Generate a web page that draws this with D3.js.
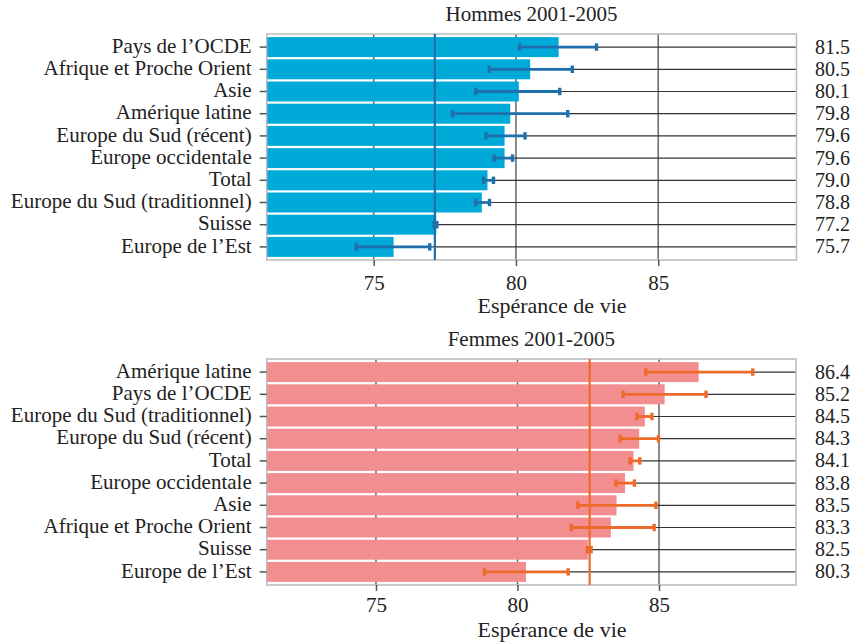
<!DOCTYPE html>
<html>
<head>
<meta charset="utf-8">
<script src="https://cdn.jsdelivr.net/npm/d3@7"></script>
<style>
  body { margin: 0; background: #fff; }
  svg { display: block; font-family: "Liberation Serif", "Times New Roman", serif; }
</style>
</head>
<body>
<svg id="chart" width="856" height="642"></svg>
<script>
// ---- Data ----
const menTitle = "Hommes 2001-2005";
const menCategories = ["Pays de l\u2019OCDE", "Afrique et Proche Orient", "Asie", "Am\u00e9rique latine",
  "Europe du Sud (r\u00e9cent)", "Europe occidentale", "Total", "Europe du Sud (traditionnel)", "Suisse", "Europe de l\u2019Est"];
const menValues = [81.5, 80.5, 80.1, 79.8, 79.6, 79.6, 79.0, 78.8, 77.2, 75.7];
const menLow  = [80.13, 79.06, 78.59, 77.77, 78.95, 79.23, 78.86, 78.58, 77.12, 74.39];
const menHigh = [82.83, 81.98, 81.54, 81.82, 80.32, 79.88, 79.21, 79.07, 77.22, 76.97];
const menRef = 77.15;

const womenTitle = "Femmes 2001-2005";
const womenCategories = ["Am\u00e9rique latine", "Pays de l\u2019OCDE", "Europe du Sud (traditionnel)",
  "Europe du Sud (r\u00e9cent)", "Total", "Europe occidentale", "Asie", "Afrique et Proche Orient", "Suisse", "Europe de l\u2019Est"];
const womenValues = [86.4, 85.2, 84.5, 84.3, 84.1, 83.8, 83.5, 83.3, 82.5, 80.3];
const womenLow  = [84.53, 83.73, 84.22, 83.63, 83.98, 83.48, 82.13, 81.90, 82.47, 78.83];
const womenHigh = [88.31, 86.66, 84.75, 84.98, 84.32, 84.13, 84.89, 84.83, 82.60, 81.79];
const womenRef = 82.55;

const xTicks = [75, 80, 85];
const xLabel = "Esp\u00e9rance de vie";

// ---- Drawing ----
const svg = d3.select("#chart");

function panel(cfg) {
  const g = svg.append("g");
  const x = d3.scaleLinear().domain(cfg.domain).range([cfg.left, cfg.right]);
  const y = d3.scaleBand().domain(cfg.cats).range([cfg.top + 2, cfg.bottom - 2])
    .paddingInner(0.1).paddingOuter(0.05);
  const data = cfg.cats.map((c, i) => ({c, v: cfg.values[i], lo: cfg.low[i], hi: cfg.high[i]}));
  const cy = d => y(d.c) + y.bandwidth() / 2;

  // vertical grid lines
  g.selectAll(".vg").data(xTicks).join("line")
    .attr("x1", d => x(d)).attr("x2", d => x(d))
    .attr("y1", cfg.top).attr("y2", cfg.bottom)
    .attr("stroke", "#666").attr("stroke-width", 1.5);
  // horizontal grid lines
  g.selectAll(".hg").data(data).join("line")
    .attr("x1", cfg.left).attr("x2", cfg.right)
    .attr("y1", cy).attr("y2", cy)
    .attr("stroke", "#333").attr("stroke-width", 1.2);
  // bars
  g.selectAll(".bar").data(data).join("rect")
    .attr("x", cfg.left).attr("y", d => y(d.c))
    .attr("width", d => x(d.v) - cfg.left).attr("height", y.bandwidth())
    .attr("fill", cfg.barColor);
  // border
  g.append("rect").attr("x", cfg.left).attr("y", cfg.top)
    .attr("width", cfg.right - cfg.left).attr("height", cfg.bottom - cfg.top)
    .attr("fill", "none").attr("stroke", "#bbb").attr("stroke-width", 1.5);
  // reference line
  g.append("line").attr("x1", x(cfg.ref)).attr("x2", x(cfg.ref))
    .attr("y1", cfg.top).attr("y2", cfg.bottom)
    .attr("stroke", cfg.errColor).attr("stroke-width", 2.2);
  // error bars
  const eb = g.selectAll(".eb").data(data).join("g");
  eb.append("line").attr("x1", d => x(d.lo)).attr("x2", d => x(d.hi))
    .attr("y1", cy).attr("y2", cy)
    .attr("stroke", cfg.errColor).attr("stroke-width", 2.8);
  eb.append("rect").attr("x", d => x(d.lo) - 1.7).attr("y", d => cy(d) - 3.7)
    .attr("width", 3.4).attr("height", 7.4).attr("fill", cfg.errColor);
  eb.append("rect").attr("x", d => x(d.hi) - 1.7).attr("y", d => cy(d) - 3.7)
    .attr("width", 3.4).attr("height", 7.4).attr("fill", cfg.errColor);

  // x axis
  const xAxis = d3.axisBottom(x).tickValues(xTicks).tickSize(6).tickPadding(cfg.tickPad)
    .tickFormat(d3.format("d"));
  const ax = g.append("g").attr("transform", `translate(0,${cfg.bottom})`).call(xAxis);
  ax.attr("font-family", null);
  ax.select(".domain").remove();
  ax.selectAll(".tick line").attr("stroke", "#555").attr("stroke-width", 1.5);
  ax.selectAll(".tick text").attr("font-size", 21).attr("fill", "#222")
    .attr("font-family", "Liberation Serif");

  // y axis
  const yAxis = d3.axisLeft(y).tickSize(7).tickPadding(8);
  const ay = g.append("g").attr("transform", `translate(${cfg.left},0)`).call(yAxis);
  ay.attr("font-family", null);
  ay.select(".domain").remove();
  ay.selectAll(".tick line").attr("stroke", "#555").attr("stroke-width", 1.5);
  ay.selectAll(".tick text").attr("font-size", 21).attr("fill", "#222")
    .attr("font-family", "Liberation Serif").attr("dy", "0.27em");

  // value labels on right
  g.selectAll(".val").data(data).join("text")
    .attr("x", 815).attr("y", cy).attr("dy", "0.32em")
    .attr("font-size", 20).attr("fill", "#222")
    .text(d => d.v.toFixed(1));

  // title
  g.append("text").attr("x", (cfg.left + cfg.right) / 2).attr("y", cfg.top - 13.5)
    .attr("text-anchor", "middle").attr("font-size", 21).attr("fill", "#222")
    .text(cfg.title);
  // axis title
  g.append("text").attr("x", 552).attr("y", cfg.axisTitleY)
    .attr("text-anchor", "middle").attr("font-size", 22).attr("fill", "#222")
    .text(xLabel);
}

panel({
  title: menTitle, cats: menCategories, values: menValues, low: menLow, high: menHigh, ref: menRef,
  domain: [71.24, 89.86], left: 266.7, right: 796.5, top: 34, bottom: 260,
  barColor: "#00AAD8", errColor: "#1F6FAD", axisTitleY: 313, tickPad: 9
});
panel({
  title: womenTitle, cats: womenCategories, values: womenValues, low: womenLow, high: womenHigh, ref: womenRef,
  domain: [71.14, 89.84], left: 266.7, right: 796, top: 359, bottom: 585,
  barColor: "#F28E90", errColor: "#EE6A2A", axisTitleY: 636.5, tickPad: 6
});
</script>
</body>
</html>
